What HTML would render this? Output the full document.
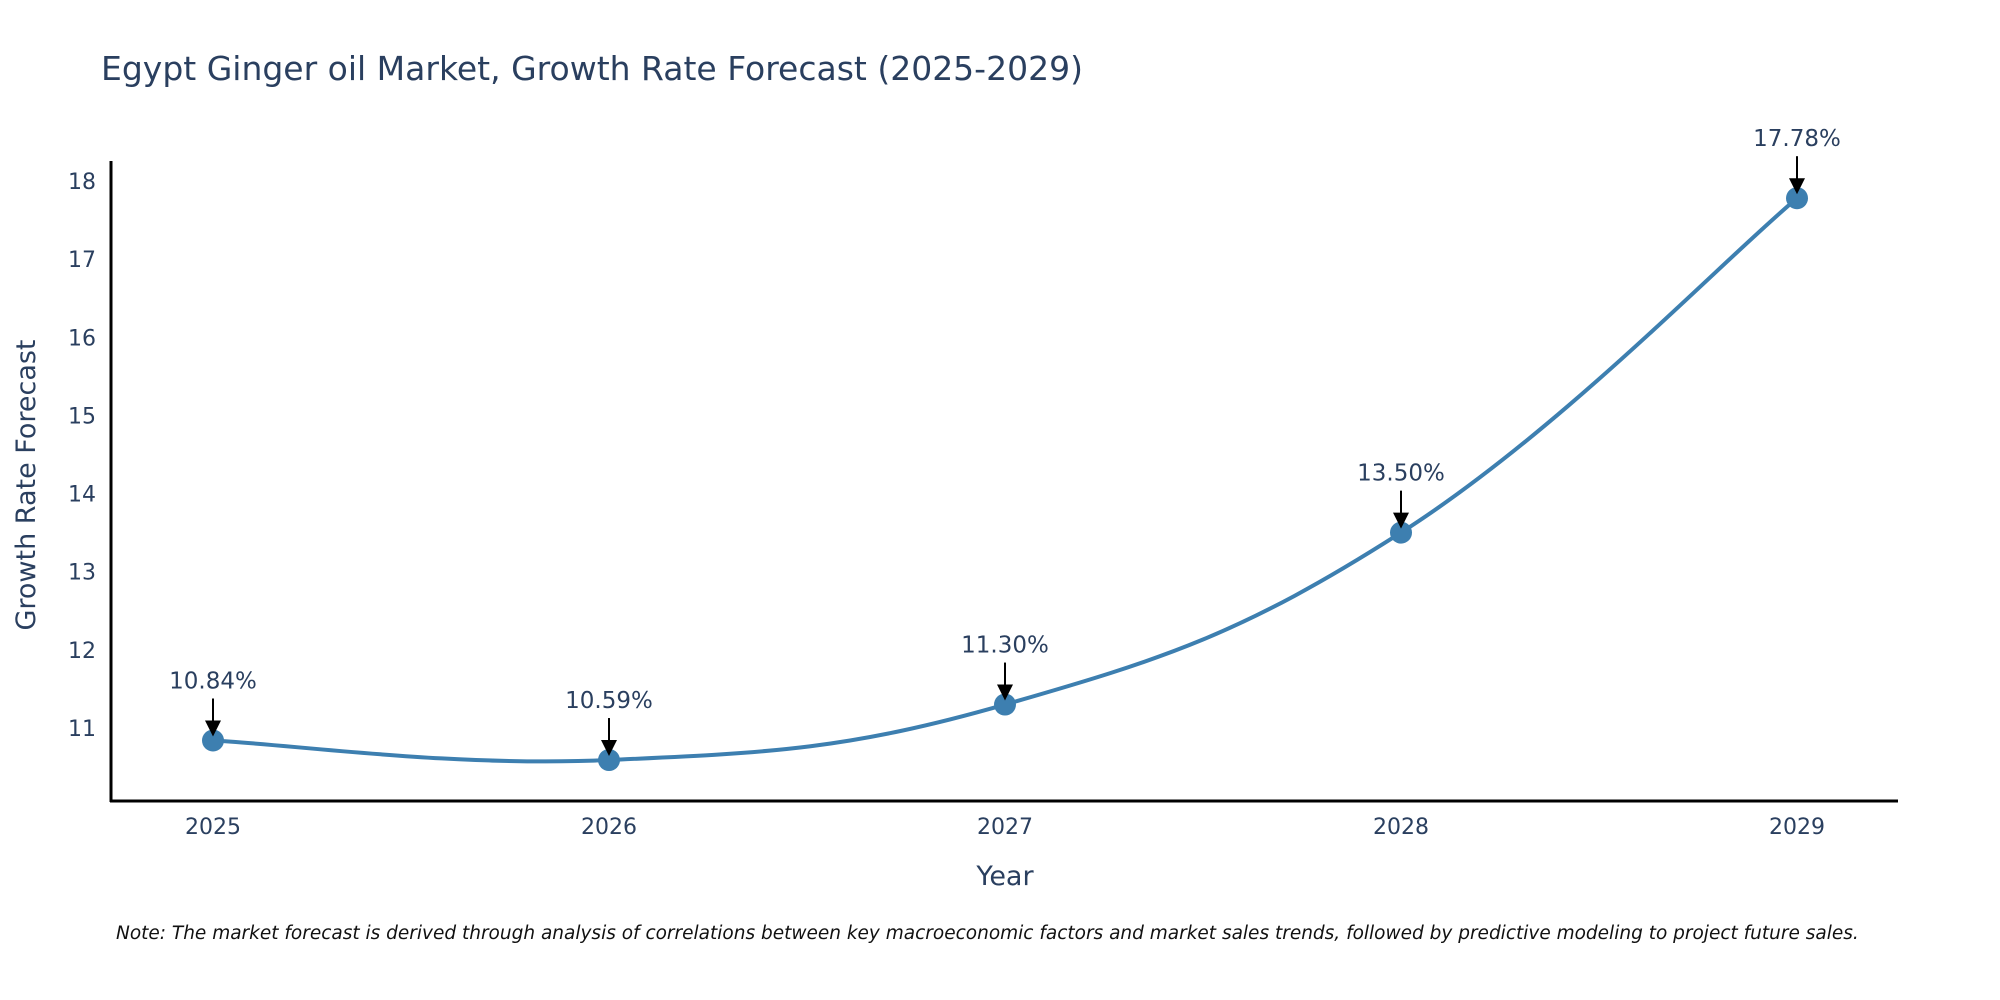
<!DOCTYPE html>
<html><head><meta charset="utf-8"><style>
html,body{margin:0;padding:0;background:#fff;}
svg{display:block;font-family:"DejaVu Sans","Liberation Sans",sans-serif;}
</style></head><body>
<svg id="chart" width="2000" height="1000">
<text x="101" y="80" font-size="33" fill="#2a3f5f">Egypt Ginger oil Market, Growth Rate Forecast (2025-2029)</text>
<g id="yticks"></g>
<g id="xticks"></g>
<line x1="111" y1="161" x2="111" y2="802" stroke="#000" stroke-width="3"/>
<line x1="110" y1="801" x2="1898" y2="801" stroke="#000" stroke-width="3"/>
<text transform="translate(35,485) rotate(-90)" text-anchor="middle" font-size="27" fill="#2a3f5f">Growth Rate Forecast</text>
<text x="1005" y="885" text-anchor="middle" font-size="27" fill="#2a3f5f">Year</text>
<path id="line" fill="none" stroke="#3d7fb0" stroke-width="4"/>
<g id="marks"></g>
<text x="116" y="939" font-size="18.5" font-style="italic" fill="#111">Note: The market forecast is derived through analysis of correlations between key macroeconomic factors and market sales trends, followed by predictive modeling to project future sales.</text>
</svg>
<script>
const years = ["2025","2026","2027","2028","2029"];
const values = [10.84, 10.59, 11.30, 13.50, 17.78];
const yTicks = [11,12,13,14,15,16,17,18];
const NS="http://www.w3.org/2000/svg";
const xScale = i => 213 + i*(1797-213)/4;
const yScale = v => 728 - (v-11)*(728-181)/7;
function mk(tag,attrs,parent){const e=document.createElementNS(NS,tag);for(const k in attrs)e.setAttribute(k,attrs[k]);parent.appendChild(e);return e;}
const yg=document.getElementById('yticks');
yTicks.forEach(t=>{
  const e=mk('text',{x:96,y:yScale(t)+8,'text-anchor':'end','font-size':22,fill:'#2a3f5f'},yg);
  
  
  e.textContent=t;
});
const xg=document.getElementById('xticks');
years.forEach((y,i)=>{
  const e=mk('text',{x:xScale(i),y:834,'text-anchor':'middle','font-size':22,fill:'#2a3f5f'},xg);
  
  
  e.textContent=y;
});
const pts=values.map((v,i)=>[xScale(i),yScale(v)]);
let d=`M${pts[0][0]},${pts[0][1]}`;
const s=0.2;
for(let i=0;i<pts.length-1;i++){
  const p0=pts[i-1]||pts[i],p1=pts[i],p2=pts[i+1],p3=pts[i+2]||pts[i+1];
  const c1=[p1[0]+(p2[0]-p0[0])*s,p1[1]+(p2[1]-p0[1])*s];
  const c2=[p2[0]-(p3[0]-p1[0])*s,p2[1]-(p3[1]-p1[1])*s];
  d+=` C${c1[0]},${c1[1]} ${c2[0]},${c2[1]} ${p2[0]},${p2[1]}`;
}
document.getElementById('line').setAttribute('d',d);
const mg=document.getElementById('marks');
values.forEach((v,i)=>{
  const x=xScale(i),y=yScale(v);
  const c=mk('circle',{cx:x,cy:y,r:11,fill:'#3d7fb0'},mg);
  
  
  const l=mk('line',{x1:x,y1:y-42,x2:x,y2:y-18,stroke:'#000','stroke-width':2},mg);
  
  
  const h=mk('polygon',{points:`${x-8},${y-20} ${x+8},${y-20} ${x},${y-4}`,fill:'#000'},mg);
  
  
  const t=mk('text',{x:x,y:y-52,'text-anchor':'middle','font-size':23,fill:'#2a3f5f'},mg);
  
  
  t.textContent=v.toFixed(2)+'%';
});
</script>
</body></html>
